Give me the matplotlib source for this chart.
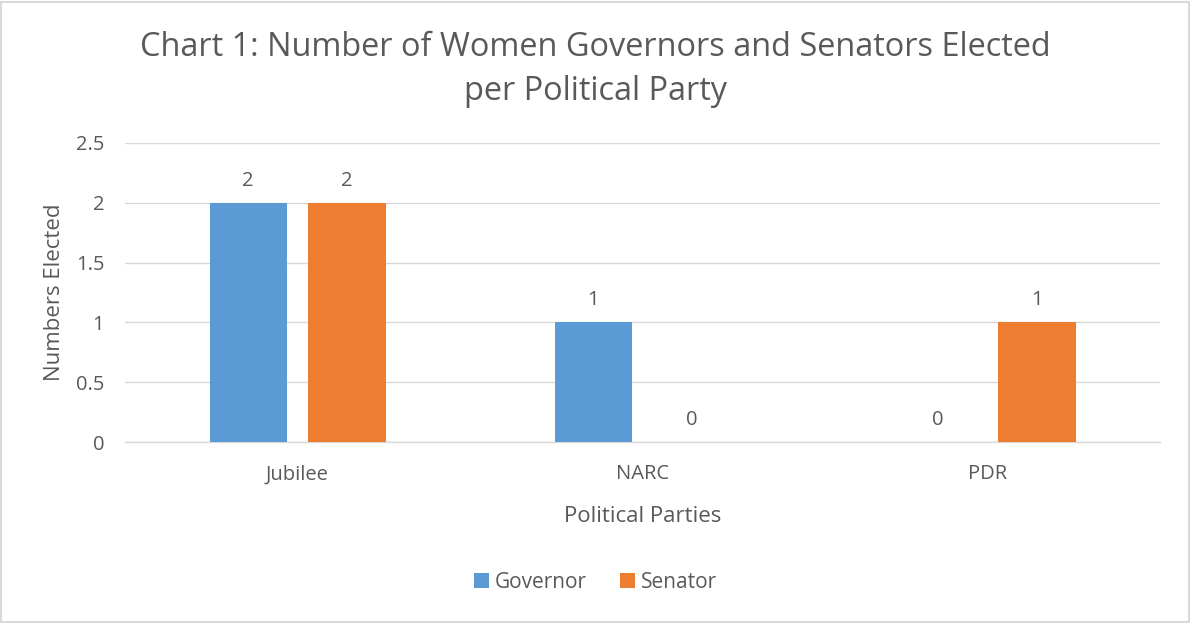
import numpy as np
import matplotlib.pyplot as plt
from matplotlib.patches import Rectangle

parties = ['Jubilee', 'NARC', 'PDR']
governor = [2, 1, 0]
senator = [2, 0, 1]
series_names = ['Governor', 'Senator']

plt.rcParams['font.family'] = ['Open Sans', 'DejaVu Sans']
text_c = '#595959'

fig = plt.figure(figsize=(11.91, 6.23), dpi=100)
ax = fig.add_axes([0.105, 0.2905, 0.869, 0.48])

x = np.arange(len(parties))
w = 0.224
off = 0.143
b1 = ax.bar(x - off, governor, w, color='#5b9bd5', label=series_names[0], zorder=3)
b2 = ax.bar(x + off, senator, w, color='#ed7d31', label=series_names[1], zorder=3)

for bars, vals in ((b1, governor), (b2, senator)):
    for rect, v in zip(bars, vals):
        ax.text(rect.get_x() + rect.get_width() / 2, v + 0.1, str(v),
                ha='center', va='bottom', fontsize=14.5, color=text_c)

ax.set_xlim(-0.5, 2.5)
ax.set_ylim(0, 2.5)
ax.set_yticks([0, 0.5, 1, 1.5, 2, 2.5])
ax.set_yticklabels(['0', '0.5', '1', '1.5', '2', '2.5'])
ax.set_xticks(x)
ax.set_xticklabels(parties)
ax.tick_params(axis='both', length=0, labelsize=14.5, colors=text_c)
ax.tick_params(axis='x', pad=16)
ax.tick_params(axis='y', pad=15)
ax.grid(axis='y', color='#d9d9d9', linewidth=1, zorder=0)
for s in ['top', 'right', 'left']:
    ax.spines[s].set_visible(False)
ax.spines['bottom'].set_color('#d9d9d9')
ax.spines['bottom'].set_linewidth(1)

ax.set_xlabel('Political Parties', fontsize=16, color=text_c, labelpad=16)
ax.set_ylabel('Numbers Elected', fontsize=16, color=text_c, labelpad=8)

fig.text(0.5, 0.888, 'Chart 1: Number of Women Governors and Senators Elected\nper Political Party',
         ha='center', va='center', fontsize=23.4, color=text_c, linespacing=1.45)

fig.legend(loc='center', bbox_to_anchor=(0.5, 0.065), ncol=2, frameon=False,
           fontsize=15, labelcolor=text_c, handlelength=0.7, handleheight=0.7,
           handletextpad=0.3, columnspacing=1.6)

fig.patches.append(Rectangle((0.001, 0.002), 0.997, 0.995, transform=fig.transFigure,
                             fill=False, edgecolor='#d9d9d9', linewidth=1.5))

fig.savefig('out.png', dpi=100)
